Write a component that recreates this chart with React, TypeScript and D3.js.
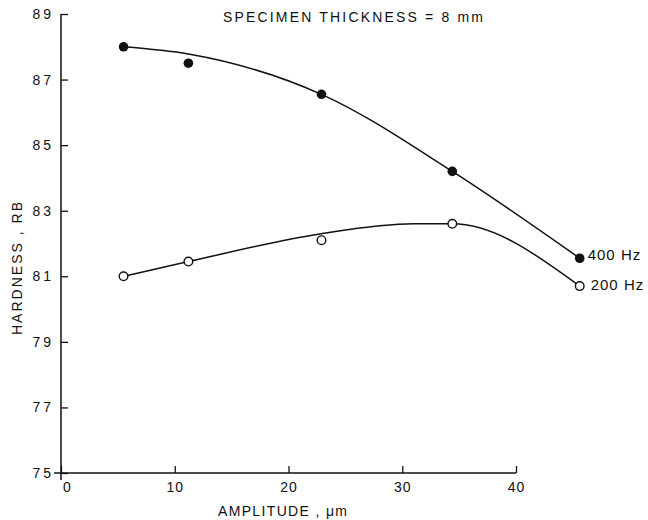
import * as d3 from "d3";
import { useEffect, useRef } from "react";

// amplitude (um) where the points sit, read against the drawn x axis
const amplitude = [5.5, 11.2, 22.9, 34.4, 45.6];
const hardness400 = [88.0, 87.5, 86.55, 84.2, 81.55];
const hardness200 = [81.0, 81.45, 82.1, 82.6, 80.7];

// hand-drawn fit curves
const fitAmp400 = [5.5, 11.2, 22.9, 34.4, 45.6];
const fit400 = [88.0, 87.78, 86.55, 84.2, 81.55];
const fitAmp200 = [5.5, 11.2, 22.9, 31.0, 34.4, 45.6];
const fit200 = [81.0, 81.45, 82.3, 82.6, 82.6, 80.7];

const xTicks = [0, 10, 20, 30, 40];
const yTicks = [75, 77, 79, 81, 83, 85, 87, 89];

const W = 648;
const H = 520;
const FONT = "'Liberation Sans', Arial, sans-serif";
const INK = "#111";

export default function App() {
  const ref = useRef<SVGSVGElement>(null);

  useEffect(() => {
    const svg = d3.select(ref.current);
    svg.selectAll("*").remove();

    const x = d3.scaleLinear().domain([0, 40]).range([61, 516]);
    const y = d3.scaleLinear().domain([75, 89]).range([473, 14]);

    // axis lines, a little overhang like the original
    svg
      .append("line")
      .attr("x1", x(0))
      .attr("x2", x(0))
      .attr("y1", y(89))
      .attr("y2", y(75) + 7)
      .attr("stroke", INK)
      .attr("stroke-width", 1.5);
    svg
      .append("line")
      .attr("x1", x(0) - 7)
      .attr("x2", x(40))
      .attr("y1", y(75))
      .attr("y2", y(75))
      .attr("stroke", INK)
      .attr("stroke-width", 1.5);

    // y axis, ticks pointing inward
    const gy = svg
      .append("g")
      .attr("transform", `translate(${x(0)},0)`)
      .call(
        d3
          .axisLeft(y)
          .tickValues(yTicks)
          .tickSizeInner(-7)
          .tickSizeOuter(0)
          .tickPadding(7)
      );
    gy.select(".domain").remove();
    gy.selectAll("line").attr("stroke", INK).attr("stroke-width", 1.3);
    gy.selectAll("text")
      .attr("fill", INK)
      .style("font-family", FONT)
      .style("font-size", "14px")
      .style("letter-spacing", "3px");

    // x axis, ticks pointing up
    const gx = svg
      .append("g")
      .attr("transform", `translate(0,${y(75)})`)
      .call(
        d3
          .axisBottom(x)
          .tickValues(xTicks)
          .tickSizeInner(-7)
          .tickSizeOuter(0)
          .tickPadding(9)
      );
    gx.select(".domain").remove();
    gx.selectAll("line").attr("stroke", INK).attr("stroke-width", 1.3);
    gx.selectAll("text")
      .attr("fill", INK)
      .style("font-family", FONT)
      .style("font-size", "14px")
      .style("letter-spacing", "1px");
    gx.selectAll<SVGTextElement, number>("text").attr("dx", (d) => (d === 0 ? 6 : 0));

    // fitted curves
    const line = d3
      .line<[number, number]>()
      .x((d) => x(d[0]))
      .y((d) => y(d[1]))
      .curve(d3.curveMonotoneX);

    svg
      .append("path")
      .datum(fitAmp400.map((a, i) => [a, fit400[i]] as [number, number]))
      .attr("fill", "none")
      .attr("stroke", INK)
      .attr("stroke-width", 1.5)
      .attr("d", line);
    svg
      .append("path")
      .datum(fitAmp200.map((a, i) => [a, fit200[i]] as [number, number]))
      .attr("fill", "none")
      .attr("stroke", INK)
      .attr("stroke-width", 1.5)
      .attr("d", line);

    // points
    svg
      .append("g")
      .selectAll("circle")
      .data(amplitude.map((a, i) => [a, hardness400[i]]))
      .join("circle")
      .attr("cx", (d) => x(d[0]))
      .attr("cy", (d) => y(d[1]))
      .attr("r", 4.8)
      .attr("fill", INK);
    svg
      .append("g")
      .selectAll("circle")
      .data(amplitude.map((a, i) => [a, hardness200[i]]))
      .join("circle")
      .attr("cx", (d) => x(d[0]))
      .attr("cy", (d) => y(d[1]))
      .attr("r", 4.3)
      .attr("fill", "#fff")
      .attr("stroke", INK)
      .attr("stroke-width", 1.4);

    // series labels
    const last = amplitude.length - 1;
    svg
      .append("text")
      .attr("x", x(amplitude[last]) + 8)
      .attr("y", y(hardness400[last]) - 2)
      .attr("dominant-baseline", "middle")
      .attr("fill", INK)
      .style("font-family", FONT)
      .style("font-size", "15px")
      .style("letter-spacing", "1px")
      .text("400 Hz");
    svg
      .append("text")
      .attr("x", x(amplitude[last]) + 11)
      .attr("y", y(hardness200[last]))
      .attr("dominant-baseline", "middle")
      .attr("fill", INK)
      .style("font-family", FONT)
      .style("font-size", "15px")
      .style("letter-spacing", "1px")
      .text("200 Hz");

    // title and axis titles
    svg
      .append("text")
      .attr("x", 223)
      .attr("y", 22)
      .attr("textLength", 260)
      .attr("lengthAdjust", "spacing")
      .attr("fill", INK)
      .style("font-family", FONT)
      .style("font-size", "14px")
      .text("SPECIMEN THICKNESS = 8 mm");
    svg
      .append("text")
      .attr("x", 218)
      .attr("y", 516)
      .attr("textLength", 129)
      .attr("lengthAdjust", "spacing")
      .attr("fill", INK)
      .style("font-family", FONT)
      .style("font-size", "14px")
      .text("AMPLITUDE , μm");
    svg
      .append("text")
      .attr("transform", "translate(22,335) rotate(-90)")
      .attr("textLength", 133)
      .attr("lengthAdjust", "spacing")
      .attr("fill", INK)
      .style("font-family", FONT)
      .style("font-size", "14px")
      .text("HARDNESS , RB");
  }, []);

  return (
    <svg
      ref={ref}
      width={W}
      height={H}
      style={{ position: "absolute", left: 0, top: 0, background: "#fff" }}
    />
  );
}
